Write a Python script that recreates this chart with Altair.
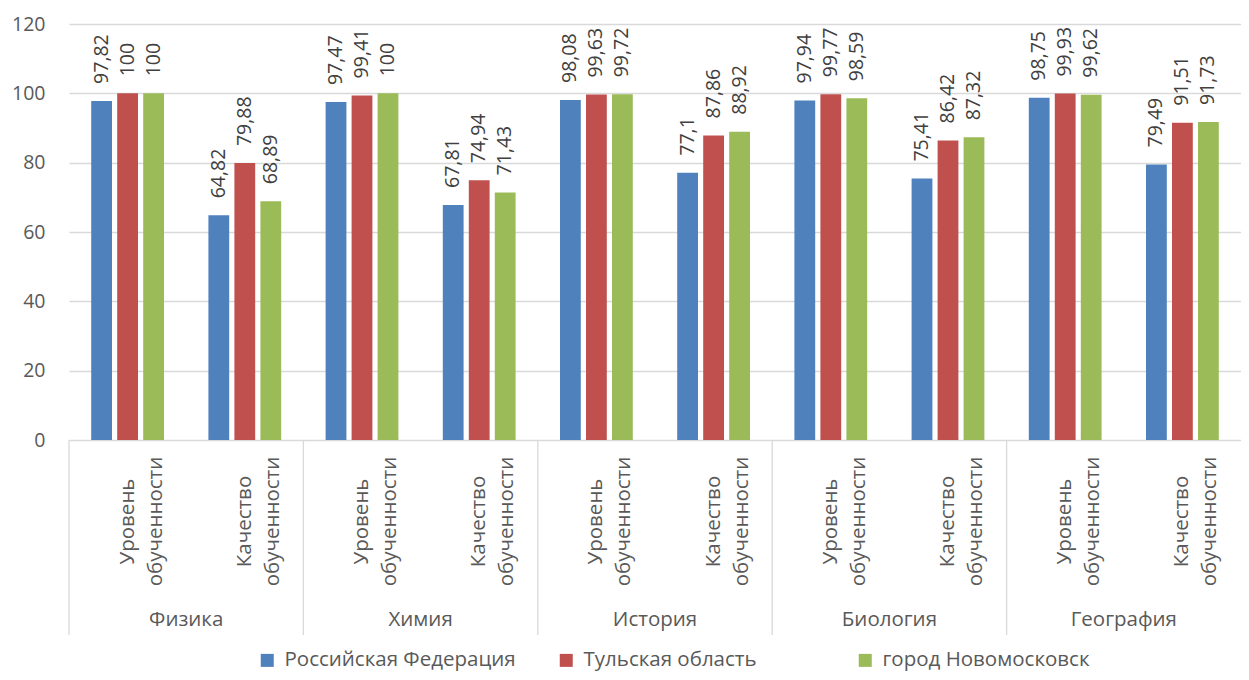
import altair as alt
import pandas as pd

subjects = ["Физика", "Химия", "История", "Биология", "География"]
measures = ["Уровень обученности", "Качество обученности"]
series = ["Российская Федерация", "Тульская область", "город Новомосковск"]
rf = [97.82, 64.82, 97.47, 67.81, 98.08, 77.1, 97.94, 75.41, 98.75, 79.49]
tula = [100, 79.88, 99.41, 74.94, 99.63, 87.86, 99.77, 86.42, 99.93, 91.51]
novo = [100, 68.89, 100, 71.43, 99.72, 88.92, 98.59, 87.32, 99.62, 91.73]
colors = ["#4F81BD", "#C0504D", "#9BBB59"]
y_ticks = [0, 20, 40, 60, 80, 100, 120]

FONT = "Open Sans"
FS_NUM = 19.5
FS_TXT = 20.5
W, H = 1172, 416

slots = [f"{s}|{m}" for s in subjects for m in measures]
rows = []
for i, slot in enumerate(slots):
    s, m = slot.split("|")
    for name, vals in zip(series, [rf, tula, novo]):
        v = vals[i]
        rows.append({"slot": slot, "subject": s, "measure": m, "series": name,
                     "value": v, "label": f"{v:g}".replace(".", ",")})
df = pd.DataFrame(rows)
slot_df = pd.DataFrame({"slot": slots, "measure": [s.split("|")[1] for s in slots]})
subj_df = pd.DataFrame({"slot": [f"{s}|{measures[0]}" for s in subjects], "subject": subjects})

xscale = alt.Scale(domain=slots, paddingInner=0, paddingOuter=0)
x_band = alt.X("slot:N", scale=xscale, axis=None)
x_start = alt.X("slot:N", scale=xscale, axis=None, bandPosition=0)
x_end = alt.X("slot:N", scale=xscale, axis=None, bandPosition=1)
xoff = alt.XOffset("series:N", sort=series,
                   scale=alt.Scale(domain=series, paddingInner=0.2, paddingOuter=0.854))
yenc = alt.Y("value:Q", scale=alt.Scale(domain=[0, 120], nice=False),
             axis=alt.Axis(values=y_ticks, title=None, grid=True, gridColor="#d9d9d9",
                           gridWidth=1.3, domain=False, ticks=False, labelPadding=24,
                           labelFont=FONT, labelFontSize=FS_NUM, labelColor="#595959"))

bars = alt.Chart(df).mark_bar().encode(
    x=x_band,
    xOffset=xoff,
    y=yenc,
    color=alt.Color("series:N", sort=series,
                    scale=alt.Scale(domain=series, range=colors),
                    legend=alt.Legend(title=None, orient="none", legendX=188, legendY=626,
                                      direction="horizontal", symbolType="square",
                                      symbolSize=169, symbolStrokeWidth=0,
                                      labelFont=FONT, labelFontSize=FS_TXT, labelColor="#595959",
                                      labelOffset=7, labelLimit=400, columnPadding=40,
                                      gridAlign="all")),
)

values = alt.Chart(df).mark_text(angle=270, align="left", baseline="middle", dx=17,
                                 font=FONT, fontSize=FS_NUM, color="#404040").encode(
    x=x_band, xOffset=xoff, y="value:Q", text="label:N")

seps = alt.Chart(subj_df).mark_rule(color="#d9d9d9", strokeWidth=1.3).encode(
    x=x_start, y=alt.value(H), y2=alt.value(H + 195))

cat_labels = alt.Chart(slot_df).mark_text(angle=270, align="center", baseline="middle",
                                          lineBreak=" ", lineHeight=28, font=FONT,
                                          fontSize=FS_TXT, color="#595959").encode(
    x=x_band, y=alt.value(H + 81.5), text="measure:N")

subj_labels = alt.Chart(subj_df).mark_text(align="center", baseline="middle", font=FONT,
                                           fontSize=FS_TXT, color="#595959").encode(
    x=x_end, y=alt.value(H + 180), text="subject:N")

chart = alt.layer(bars, values, seps, cat_labels, subj_labels).properties(
    width=W, height=H,
    autosize=alt.AutoSizeParams(type="none"),
    padding={"left": 61, "top": 16, "right": 0, "bottom": 232},
).configure_view(stroke=None)

chart.save("out.html", embed_options={"renderer": "svg", "actions": False})
